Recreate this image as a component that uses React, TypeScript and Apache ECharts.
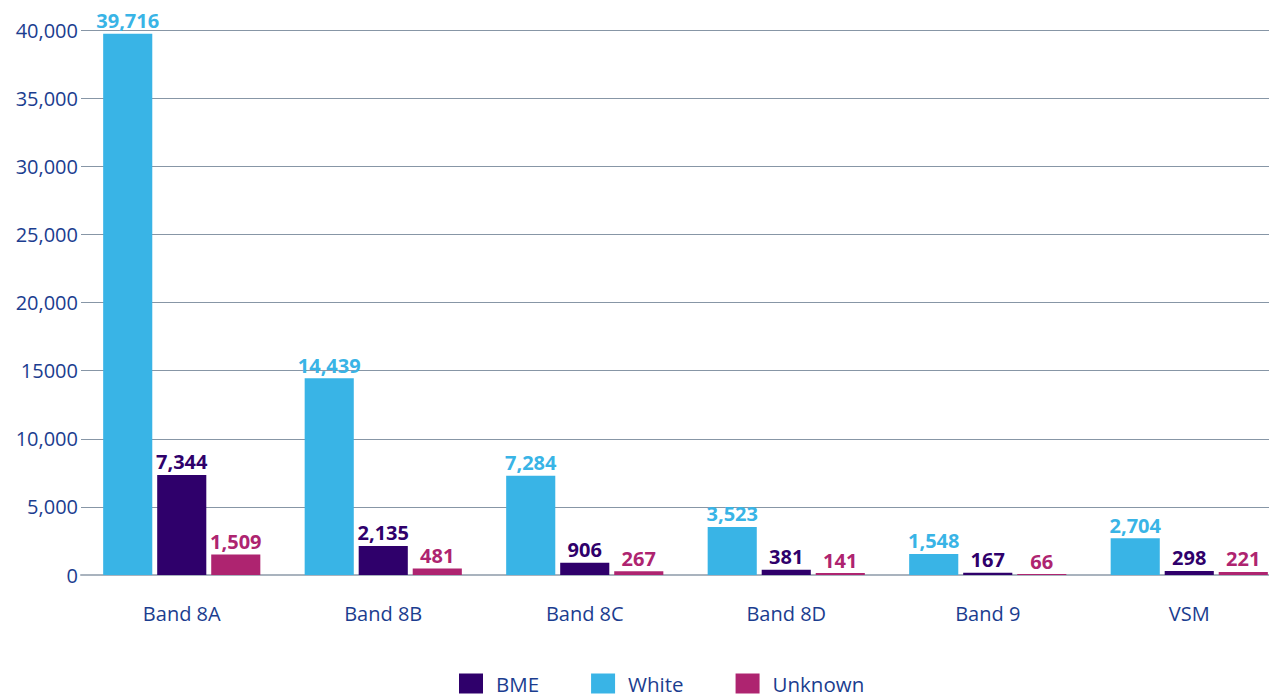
import React, { useEffect, useRef } from "react";
import * as echarts from "echarts";

const categories = ["Band 8A", "Band 8B", "Band 8C", "Band 8D", "Band 9", "VSM"];
const whiteValues = [39716, 14439, 7284, 3523, 1548, 2704];
const bmeValues = [7344, 2135, 906, 381, 167, 298];
const unknownValues = [1509, 481, 267, 141, 66, 221];
const yTickLabels = ["0", "5,000", "10,000", "15000", "20,000", "25,000", "30,000", "35,000", "40,000"];
const legendOrder = ["BME", "White", "Unknown"];

const FONT = "'Open Sans', 'Noto Sans', sans-serif";
const NAVY = "#1b3d8f";
const fmt = (v: number) => v.toLocaleString("en-US");

export default function App() {
  const ref = useRef<HTMLDivElement>(null);
  useEffect(() => {
    if (!ref.current) return;
    const chart = echarts.init(ref.current, null, { renderer: "svg" });
    const mkSeries = (name: string, data: number[], color: string) => ({
      name,
      type: "bar",
      data,
      barGap: "10%",
      barCategoryGap: "22%",
      itemStyle: { color },
      label: {
        show: true,
        position: "top",
        distance: 3,
        color,
        fontFamily: FONT,
        fontWeight: "bold",
        fontSize: 20,
        formatter: (p: any) => fmt(p.value),
      },
    });
    chart.setOption({
      animation: false,
      textStyle: { fontFamily: FONT },
      grid: { left: 81, right: 0, top: 30, bottom: 123, containLabel: false },
      legend: {
        data: legendOrder,
        top: 673,
        padding: 0,
        left: 459,
        itemWidth: 24,
        itemHeight: 20,
        itemGap: 52,
        icon: "rect",
        textStyle: { color: NAVY, fontSize: 20.5, lineHeight: 20, fontFamily: FONT, padding: [0, 0, 0, 8] },
      },
      xAxis: {
        type: "category",
        data: categories,
        axisTick: { show: false },
        axisLine: { lineStyle: { color: "#a9b3be", width: 2 } },
        axisLabel: { color: NAVY, fontSize: 20, fontFamily: FONT, margin: 28 },
      },
      yAxis: {
        type: "value",
        min: 0,
        max: 40000,
        interval: 5000,
        axisLine: { show: false },
        axisTick: { show: false },
        splitLine: { lineStyle: { color: "#8796a6", width: 1 } },
        axisLabel: {
          color: NAVY,
          fontSize: 20,
          fontFamily: FONT,
          fontWeight: 500,
          margin: 3,
          formatter: (v: number) => yTickLabels[Math.round(v / 5000)] ?? String(v),
        },
      },
      series: [
        mkSeries("White", whiteValues, "#39b4e6"),
        mkSeries("BME", bmeValues, "#2f006b"),
        mkSeries("Unknown", unknownValues, "#ae2470"),
      ],
    });
    return () => chart.dispose();
  }, []);
  return (
    <div style={{ position: "fixed", left: 0, top: 0, width: 1269, height: 698, overflow: "hidden", background: "#fff" }}>
      <div ref={ref} style={{ width: 1290, height: 698 }} />
    </div>
  );
}
